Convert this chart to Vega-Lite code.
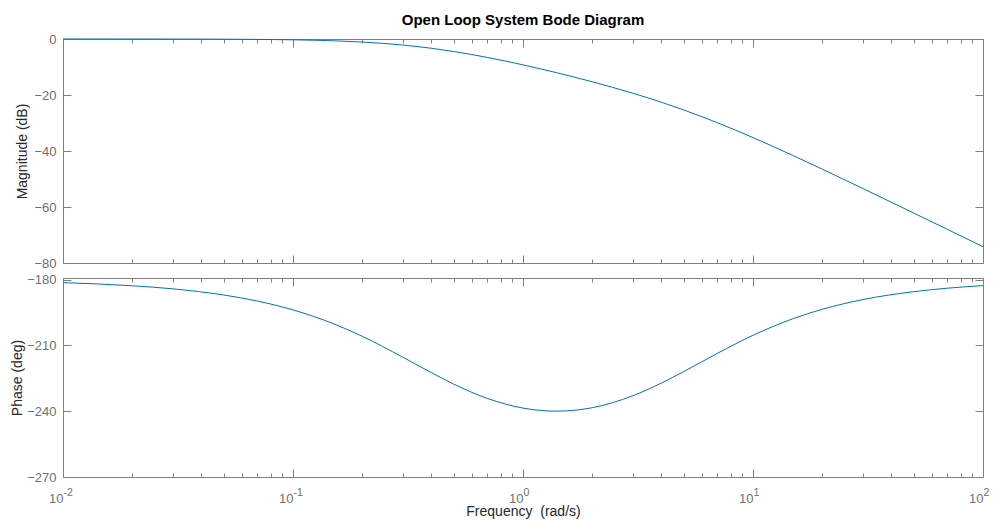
{
  "$schema": "https://vega.github.io/schema/vega-lite/v6.json",
  "padding": {"left": 10, "top": 12, "right": 13, "bottom": 0},
  "background": "white",
  "config": {
    "font": "Liberation Sans",
    "view": {"stroke": "#808080", "strokeWidth": 1},
    "axis": {
      "domain": false, "grid": false, "tickColor": "#808080", "tickWidth": 1,
      "labelColor": "#707070", "labelFont": "Liberation Sans", "labelFontSize": 13,
      "titleFont": "Liberation Sans", "titleFontSize": 14, "titleColor": "#262626", "titleFontWeight": "normal",
      "labelOverlap": false, "labelFlush": false, "labelBound": false, "minExtent": 0
    },
    "line": {"color": "#0072BD", "strokeWidth": 1, "interpolate": "monotone"}
  },
  "datasets": {
    "bode": [
      {"w": 0.01, "mag": 0.01, "phase": -181.42},
      {"w": 0.02, "mag": 0.0, "phase": -182.83},
      {"w": 0.03, "mag": -0.02, "phase": -184.24},
      {"w": 0.05, "mag": -0.07, "phase": -187.05},
      {"w": 0.07, "mag": -0.14, "phase": -189.81},
      {"w": 0.1, "mag": -0.29, "phase": -193.83},
      {"w": 0.15, "mag": -0.64, "phase": -200.15},
      {"w": 0.2, "mag": -1.08, "phase": -205.88},
      {"w": 0.3, "mag": -2.15, "phase": -215.37},
      {"w": 0.4, "mag": -3.31, "phase": -222.47},
      {"w": 0.5, "mag": -4.47, "phase": -227.66},
      {"w": 0.7, "mag": -6.58, "phase": -234.18},
      {"w": 1, "mag": -9.24, "phase": -238.6},
      {"w": 1.2, "mag": -10.72, "phase": -239.7},
      {"w": 1.4, "mag": -12.03, "phase": -239.99},
      {"w": 1.7, "mag": -13.76, "phase": -239.52},
      {"w": 2, "mag": -15.28, "phase": -238.42},
      {"w": 3, "mag": -19.36, "phase": -232.98},
      {"w": 4, "mag": -22.59, "phase": -227.18},
      {"w": 5, "mag": -25.34, "phase": -221.94},
      {"w": 7, "mag": -29.89, "phase": -213.65},
      {"w": 10, "mag": -35.21, "phase": -205.41},
      {"w": 15, "mag": -41.7, "phase": -197.76},
      {"w": 20, "mag": -46.48, "phase": -193.56},
      {"w": 30, "mag": -53.37, "phase": -189.15},
      {"w": 50, "mag": -62.16, "phase": -185.53},
      {"w": 70, "mag": -67.98, "phase": -183.95},
      {"w": 100, "mag": -74.17, "phase": -182.78}
    ]
  },
  "spacing": 2,
  "vconcat": [
    {
      "width": 920,
      "height": 224,
      "title": {"text": "Open Loop System Bode Diagram", "fontSize": 15, "fontWeight": "bold", "color": "#000000", "anchor": "middle", "frame": "group", "baseline": "alphabetic", "offset": -6.5},
      "data": {"name": "bode"},
      "resolve": {"axis": {"x": "independent", "y": "independent"}},
      "layer": [
        {
          "mark": "line",
          "encoding": {
            "x": {"field": "w", "type": "quantitative", "scale": {"type": "log", "domain": [0.01, 100]},
              "axis": {"orient": "bottom", "values": [0.01, 0.1, 1, 10, 100], "labels": false, "tickSize": 8, "offset": -8, "title": null}},
            "y": {"field": "mag", "type": "quantitative", "scale": {"domain": [-80, 0], "nice": false, "zero": false},
              "axis": {"orient": "left", "values": [-80, -60, -40, -20, 0], "tickSize": 8, "offset": -8, "labelPadding": 7, "labelBaseline": "middle",
                "title": "Magnitude (dB)", "titleX": -44.5, "titleBaseline": "alphabetic", "titleAngle": -90}}
          }
        },
        {
          "mark": {"type": "line", "opacity": 0},
          "encoding": {
            "x": {"field": "w", "type": "quantitative",
              "axis": {"orient": "bottom", "values": [0.02,0.03,0.04,0.05,0.06,0.07,0.08,0.09,0.2,0.3,0.4,0.5,0.6,0.7,0.8,0.9,2,3,4,5,6,7,8,9,20,30,40,50,60,70,80,90], "labels": false, "tickSize": 4, "offset": -4, "title": null}},
            "y": {"field": "mag", "type": "quantitative",
              "axis": {"orient": "right", "values": [-80, -60, -40, -20, 0], "labels": false, "tickSize": 8, "offset": -8, "title": null}}
          }
        },
        {
          "mark": {"type": "line", "opacity": 0},
          "encoding": {
            "x": {"field": "w", "type": "quantitative",
              "axis": {"orient": "top", "values": [0.01, 0.1, 1, 10, 100], "labels": false, "tickSize": 8, "offset": -8, "title": null}},
            "y": {"field": "mag", "type": "quantitative", "axis": null}
          }
        },
        {
          "mark": {"type": "line", "opacity": 0},
          "encoding": {
            "x": {"field": "w", "type": "quantitative",
              "axis": {"orient": "top", "values": [0.02,0.03,0.04,0.05,0.06,0.07,0.08,0.09,0.2,0.3,0.4,0.5,0.6,0.7,0.8,0.9,2,3,4,5,6,7,8,9,20,30,40,50,60,70,80,90], "labels": false, "tickSize": 4, "offset": -4, "title": null}},
            "y": {"field": "mag", "type": "quantitative", "axis": null}
          }
        }
      ]
    },
    {
      "width": 920,
      "height": 199,
      "data": {"name": "bode"},
      "resolve": {"axis": {"x": "independent", "y": "independent"}},
      "layer": [
        {
          "mark": "line",
          "encoding": {
            "x": {"field": "w", "type": "quantitative", "scale": {"type": "log", "domain": [0.01, 100]},
              "axis": {"orient": "bottom", "values": [0.01, 0.1, 1, 10, 100], "labels": false, "tickSize": 8, "offset": -8, "title": null}},
            "y": {"field": "phase", "type": "quantitative", "scale": {"domain": [-270, -179.3], "nice": false, "zero": false},
              "axis": {"orient": "left", "values": [-270, -240, -210, -180], "tickSize": 8, "offset": -8, "labelPadding": 7, "labelBaseline": "middle",
                "title": "Phase (deg)", "titleX": -49.3, "titleBaseline": "alphabetic", "titleAngle": -90}}
          }
        },
        {
          "mark": {"type": "line", "opacity": 0},
          "encoding": {
            "x": {"field": "w", "type": "quantitative",
              "axis": {"orient": "bottom", "values": [0.02,0.03,0.04,0.05,0.06,0.07,0.08,0.09,0.2,0.3,0.4,0.5,0.6,0.7,0.8,0.9,2,3,4,5,6,7,8,9,20,30,40,50,60,70,80,90], "labels": false, "tickSize": 4, "offset": -4, "title": null}},
            "y": {"field": "phase", "type": "quantitative",
              "axis": {"orient": "right", "values": [-270, -240, -210, -180], "labels": false, "tickSize": 8, "offset": -8, "title": null}}
          }
        },
        {
          "mark": {"type": "line", "opacity": 0},
          "encoding": {
            "x": {"field": "w", "type": "quantitative",
              "axis": {"orient": "top", "values": [0.01, 0.1, 1, 10, 100], "labels": false, "tickSize": 8, "offset": -8, "title": null}},
            "y": {"field": "phase", "type": "quantitative", "axis": null}
          }
        },
        {
          "mark": {"type": "line", "opacity": 0},
          "encoding": {
            "x": {"field": "w", "type": "quantitative",
              "axis": {"orient": "top", "values": [0.02,0.03,0.04,0.05,0.06,0.07,0.08,0.09,0.2,0.3,0.4,0.5,0.6,0.7,0.8,0.9,2,3,4,5,6,7,8,9,20,30,40,50,60,70,80,90], "labels": false, "tickSize": 4, "offset": -4, "title": null}},
            "y": {"field": "phase", "type": "quantitative", "axis": null}
          }
        },
        {
          "mark": {"type": "line", "opacity": 0},
          "encoding": {
            "x": {"field": "w", "type": "quantitative",
              "axis": {"orient": "bottom", "values": [0.01, 0.1], "ticks": false, "tickSize": 0, "labelExpr": "'10'", "labelAlign": "right", "labelDx": 0, "labelBaseline": "alphabetic", "labelPadding": 25,
                "title": "Frequency\u00a0 (rad/s)", "titleY": 38.5, "titleBaseline": "alphabetic"}},
            "y": {"field": "phase", "type": "quantitative", "axis": null}
          }
        },
        {
          "mark": {"type": "line", "opacity": 0},
          "encoding": {
            "x": {"field": "w", "type": "quantitative",
              "axis": {"orient": "bottom", "values": [1, 10, 100], "ticks": false, "tickSize": 0, "labelExpr": "'10'", "labelAlign": "right", "labelDx": 4, "labelBaseline": "alphabetic", "labelPadding": 25, "title": null}},
            "y": {"field": "phase", "type": "quantitative", "axis": null}
          }
        },
        {
          "mark": {"type": "line", "opacity": 0},
          "encoding": {
            "x": {"field": "w", "type": "quantitative",
              "axis": {"orient": "bottom", "values": [0.01, 0.1], "ticks": false, "tickSize": 0, "labelExpr": "datum.value < 0.05 ? '-2' : '-1'", "labelFontSize": 10.5, "labelAlign": "left", "labelDx": 0.5, "labelBaseline": "alphabetic", "labelPadding": 18.5, "title": null}},
            "y": {"field": "phase", "type": "quantitative", "axis": null}
          }
        },
        {
          "mark": {"type": "line", "opacity": 0},
          "encoding": {
            "x": {"field": "w", "type": "quantitative",
              "axis": {"orient": "bottom", "values": [1, 10, 100], "ticks": false, "tickSize": 0, "labelExpr": "datum.value < 5 ? '0' : (datum.value < 50 ? '1' : '2')", "labelFontSize": 10.5, "labelAlign": "left", "labelDx": 4.5, "labelBaseline": "alphabetic", "labelPadding": 18.5, "title": null}},
            "y": {"field": "phase", "type": "quantitative", "axis": null}
          }
        }
      ]
    }
  ]
}
